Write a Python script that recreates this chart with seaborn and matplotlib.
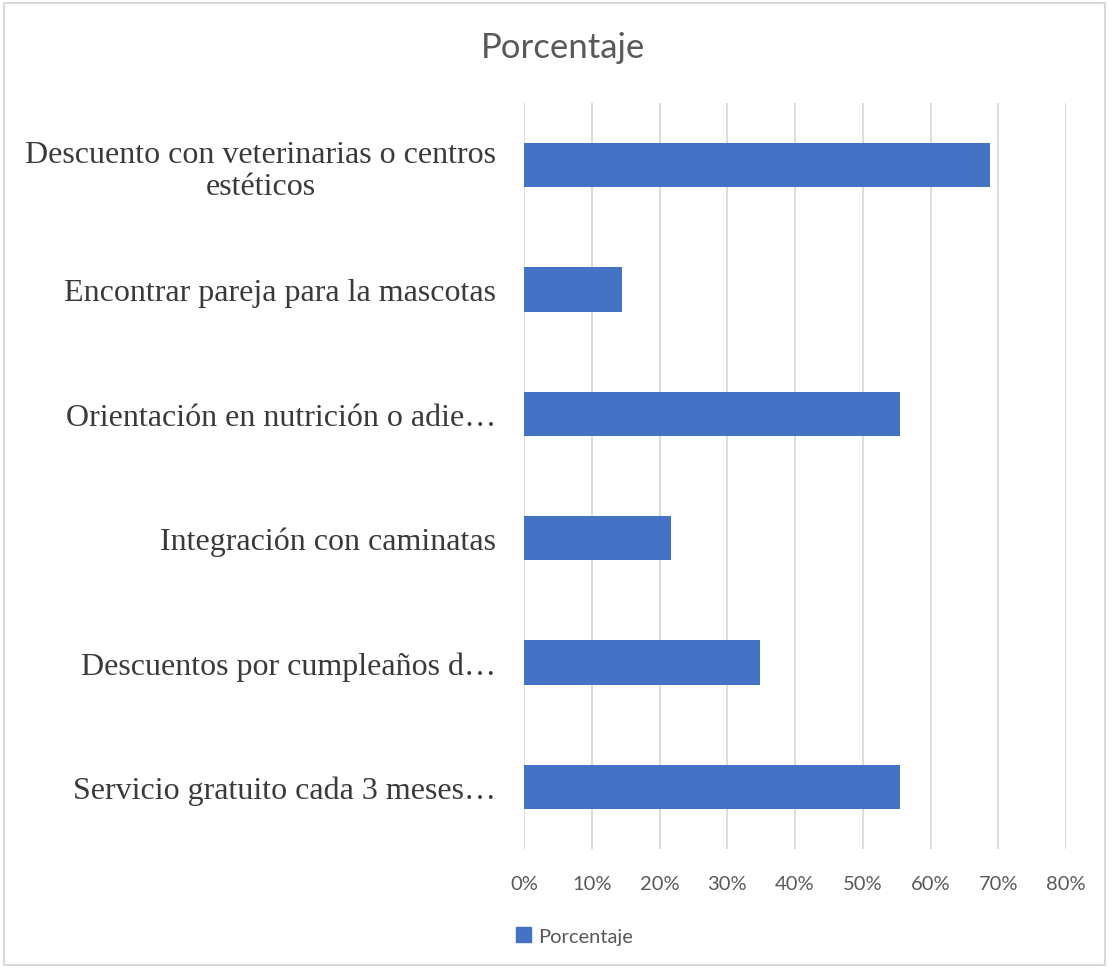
import matplotlib
matplotlib.use("Agg")
import matplotlib.pyplot as plt
import matplotlib.patches as mpatches
from matplotlib.ticker import PercentFormatter
import seaborn as sns
import pandas as pd

categories = [
    "Descuento con veterinarias o centros\nestéticos",
    "Encontrar pareja para la mascotas",
    "Orientación en nutrición o adie…",
    "Integración con caminatas",
    "Descuentos por cumpleaños d…",
    "Servicio gratuito cada 3 meses…",
]
values = [0.688, 0.145, 0.555, 0.217, 0.349, 0.555]
series_name = "Porcentaje"
x_ticks = [0, 0.1, 0.2, 0.3, 0.4, 0.5, 0.6, 0.7, 0.8]

df = pd.DataFrame({"cat": categories, "val": values})

sns.set_theme(style="white")
plt.rcParams["font.family"] = ["Lato", "DejaVu Sans"]

W, H = 1109, 970
fig = plt.figure(figsize=(W / 100, H / 100), dpi=100)
ax = fig.add_axes([524 / W, 1 - 850 / H, (1066 - 524) / W, (850 - 104) / H])

bar_color = "#4472C4"
sns.barplot(data=df, y="cat", x="val", orient="h", color=bar_color,
            width=0.355, ax=ax, saturation=1, edgecolor="none")

ax.set_xlim(0, 0.8)
ax.set_xticks(x_ticks)
ax.xaxis.set_major_formatter(PercentFormatter(1.0, decimals=0))
ax.set_xlabel("")
ax.set_ylabel("")
ax.grid(axis="x", color="#D9D9D9", linewidth=1.3)
ax.grid(axis="y", visible=False)
ax.set_axisbelow(True)
for s in ax.spines.values():
    s.set_visible(False)

ax.tick_params(axis="x", length=0, pad=19, labelsize=14.5, labelcolor="#595959")
ax.tick_params(axis="y", length=0, pad=20)
for lbl in ax.get_yticklabels():
    lbl.set_fontfamily(["Liberation Serif", "DejaVu Serif"])
    lbl.set_fontsize(23)
    lbl.set_color("#3a3a3a")
    lbl.set_multialignment("center")
    lbl.set_linespacing(1.15)

fig.text(563 / W, 1 - 48 / H, "Porcentaje", ha="center", va="center",
         fontsize=25, color="#595959")

handle = mpatches.Patch(color=bar_color, label=series_name)
fig.legend(handles=[handle], loc="center left",
           bbox_to_anchor=(498 / W, 1 - 937 / H), frameon=False,
           fontsize=14.5, handlelength=0.75, handleheight=0.75,
           handletextpad=0.35, labelcolor="#595959")

border = mpatches.Rectangle((4 / W, 4 / H), (W - 8) / W, (H - 8) / H,
                            transform=fig.transFigure, fill=False,
                            edgecolor="#D9D9D9", linewidth=1.5)
fig.patches.append(border)

fig.savefig("out.png", dpi=100)
